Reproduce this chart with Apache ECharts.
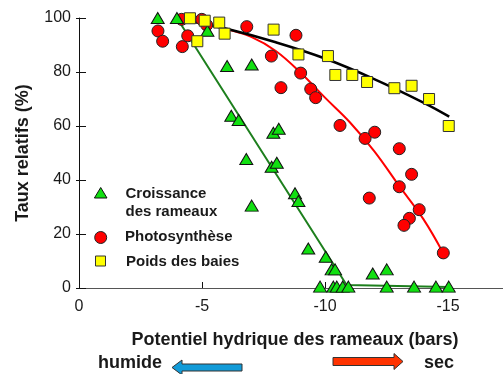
<!DOCTYPE html>
<html>
<head>
<meta charset="utf-8">
<script src="https://cdn.jsdelivr.net/npm/echarts@6/dist/echarts.min.js"></script>
<style>
  html, body { margin: 0; padding: 0; background: #fff; }
  #chart { width: 503px; height: 374px; }
</style>
</head>
<body>
<div id="chart"></div>
<script>
// Water potential (bars) vs relative rate (%)
const seriesNames = ['Croissance\ndes rameaux', 'Photosynthèse', 'Poids des baies'];

// Shoot growth
const croissance = [
  [-3.2, 100], [-3.98, 100], [-5.22, 95.3], [-6.02, 82.2], [-7.02, 82.8],
  [-6.19, 63.8], [-6.49, 62.2], [-6.8, 47.8], [-7.02, 30.5], [-7.9, 57.5],
  [-8.12, 59], [-7.83, 44.9], [-8.04, 46.4], [-8.78, 35.1], [-8.92, 32.2],
  [-9.32, 14.6], [-10.03, 11.6], [-10.27, 6.9], [-10.41, 6.9], [-9.8, 0.5],
  [-10.34, 0.5], [-10.48, 0.5], [-10.72, 0.5], [-10.95, 0.5], [-11.94, 5.4],
  [-12.51, 6.9], [-12.51, 0.5], [-13.62, 0.5], [-14.51, 0.5], [-15.03, 0.5]
];
// Photosynthesis
const photosynthese = [
  [-3.21, 95.2], [-3.4, 91.4], [-4.2, 89.4], [-4.42, 93.4], [-4.17, 99.5],
  [-4.99, 99.5], [-5.19, 97.4], [-6.82, 96.8], [-7.82, 85.9], [-8.21, 74.2],
  [-8.82, 93.6], [-9.01, 79.6], [-9.42, 73.7], [-9.62, 70.5], [-10.61, 60.2],
  [-11.63, 55.4], [-12.02, 57.7], [-11.8, 33.3], [-13.02, 51.6], [-13.02, 37.5],
  [-13.52, 42.1], [-13.83, 29], [-13.43, 25.8], [-13.21, 23.2], [-14.81, 13]
];
// Berry weight
const poids = [
  [-4.51, 99.9], [-4.81, 91.4], [-5.11, 99], [-5.7, 98.3], [-5.92, 94.2],
  [-7.91, 95.7], [-8.92, 86.5], [-10.12, 85.9], [-10.42, 78.9], [-11.11, 78.9],
  [-11.71, 76.3], [-12.82, 74], [-13.52, 74.9], [-14.23, 70], [-15.03, 60]
];

// Fitted trend curves
const croissanceFit = [[-3.98, 100], [-10.88, 1.1], [-15.03, 0.4]];
const photosyntheseFit = [
  [-5.1, 98], [-6, 95.9], [-7, 93], [-8, 87.8], [-9, 79.8], [-10, 70.5],
  [-11, 61.5], [-12, 50.7], [-13, 38], [-14, 25.5], [-14.8, 13]
];
const poidsFit = [
  [-4.4, 99], [-6, 96], [-8, 91], [-10, 85], [-12, 77.4], [-14, 68.7], [-15.05, 63.5]
];

const xTicks = [0, -5, -10, -15];
const yTicks = [0, 20, 40, 60, 80, 100];

const FONT = '"Liberation Sans", Arial, sans-serif';
const INK = '#1a1a1a';

const chart = echarts.init(document.getElementById('chart'), null, { renderer: 'canvas' });

const xBase = { type: 'value', min: -17.5, max: 0, inverse: true, gridIndex: 0 };

const option = {
  animation: false,
  backgroundColor: '#ffffff',
  // the axis runs slightly past the right edge of the canvas
  grid: { left: 79, top: 18, right: -6.5, bottom: 86, outerBoundsMode: 'none', containLabel: false },
  xAxis: [
    Object.assign({}, xBase, {
      position: 'bottom',
      axisLine: { lineStyle: { color: '#111', width: 1 } },
      axisTick: { inside: true, length: 6, customValues: xTicks, lineStyle: { color: '#111' } },
      axisLabel: {
        margin: 11, fontFamily: FONT, fontSize: 16, color: INK,
        customValues: xTicks, showMinLabel: true, showMaxLabel: true
      },
      splitLine: { show: false }
    }),
    Object.assign({}, xBase, {
      position: 'top',
      axisLine: { lineStyle: { color: '#555', width: 1 } },
      axisTick: { show: false }, axisLabel: { show: false }, splitLine: { show: false }
    })
  ],
  yAxis: [
    {
      type: 'value', min: 0, max: 100, interval: 20,
      name: 'Taux relatifs (%)', nameLocation: 'middle', nameGap: 47,
      nameTextStyle: { fontFamily: FONT, fontSize: 18, fontWeight: 'bold', color: INK },
      axisLine: { show: true, lineStyle: { color: '#111', width: 1 } },
      axisTick: { show: true, inside: true, length: 7, lineStyle: { color: '#111' } },
      axisLabel: {
        margin: 8, fontFamily: FONT, fontSize: 16, color: INK,
        formatter: v => (yTicks.indexOf(v) >= 0 ? String(v) : '')
      },
      splitLine: { show: false }
    },
    {
      type: 'value', min: 0, max: 100, interval: 20, position: 'left',
      axisLine: { show: false },
      axisTick: { show: true, inside: false, length: 3, lineStyle: { color: '#111' } },
      axisLabel: { show: false }, splitLine: { show: false }
    }
  ],
  series: [
    {
      type: 'line', data: croissanceFit, symbol: 'none', z: 2,
      lineStyle: { color: '#1d7f1d', width: 2 }
    },
    {
      type: 'line', data: photosyntheseFit, symbol: 'none', smooth: 0.4, z: 2,
      lineStyle: { color: '#ff0000', width: 2 }
    },
    {
      type: 'line', data: poidsFit, symbol: 'none', smooth: 0.4, z: 2,
      lineStyle: { color: '#000000', width: 2.5 }
    },
    {
      name: seriesNames[1], type: 'scatter', data: photosynthese, z: 3,
      symbol: 'circle', symbolSize: 12,
      itemStyle: { color: '#ff0000', borderColor: '#222', borderWidth: 1, opacity: 1 }
    },
    {
      name: seriesNames[0], type: 'scatter', data: croissance, z: 4,
      symbol: 'triangle', symbolSize: [13, 11],
      itemStyle: { color: '#11e011', borderColor: '#111', borderWidth: 1, opacity: 1 }
    },
    {
      name: seriesNames[2], type: 'scatter', data: poids, z: 5,
      symbol: 'rect', symbolSize: 11,
      itemStyle: { color: '#ffff00', borderColor: '#333', borderWidth: 1, opacity: 1 }
    }
  ],
  graphic: [
    // legend
    { type: 'polygon', shape: { points: [[100.7, 187.5], [107, 198], [94.4, 198]] },
      style: { fill: '#11e011', stroke: '#111', lineWidth: 1 } },
    { type: 'text', left: 125.5, top: 184.5,
      style: { text: seriesNames[0], font: 'bold 15px ' + FONT, fill: INK, lineHeight: 18.5 } },
    { type: 'circle', shape: { cx: 100.7, cy: 237.5, r: 6 },
      style: { fill: '#ff0000', stroke: '#222', lineWidth: 1 } },
    { type: 'text', left: 125, top: 229,
      style: { text: seriesNames[1], font: 'bold 15px ' + FONT, fill: INK } },
    { type: 'rect', shape: { x: 95.5, y: 256, width: 10, height: 10 },
      style: { fill: '#ffff00', stroke: '#333', lineWidth: 1 } },
    { type: 'text', left: 126, top: 254,
      style: { text: seriesNames[2], font: 'bold 15px ' + FONT, fill: INK } },
    // x axis title and direction arrows
    { type: 'text', x: 295, y: 340,
      style: { text: 'Potentiel hydrique des rameaux (bars)', font: 'bold 18px ' + FONT,
               fill: INK, textAlign: 'center', textVerticalAlign: 'middle' } },
    { type: 'text', x: 98, y: 363,
      style: { text: 'humide', font: 'bold 18px ' + FONT, fill: INK,
               textAlign: 'left', textVerticalAlign: 'middle' } },
    { type: 'text', x: 424, y: 363,
      style: { text: 'sec', font: 'bold 18px ' + FONT, fill: INK,
               textAlign: 'left', textVerticalAlign: 'middle' } },
    { type: 'polygon',
      shape: { points: [[172, 367.5], [182, 360], [182, 364], [242, 364], [242, 371], [182, 371], [182, 375]] },
      style: { fill: '#129bd8', stroke: '#333', lineWidth: 1 } },
    { type: 'polygon',
      shape: { points: [[333, 357.5], [394, 357.5], [394, 353.5], [403, 361.5], [394, 369.5], [394, 365.5], [333, 365.5]] },
      style: { fill: '#ff3300', stroke: '#333', lineWidth: 1 } }
  ]
};

chart.setOption(option);
</script>
</body>
</html>
